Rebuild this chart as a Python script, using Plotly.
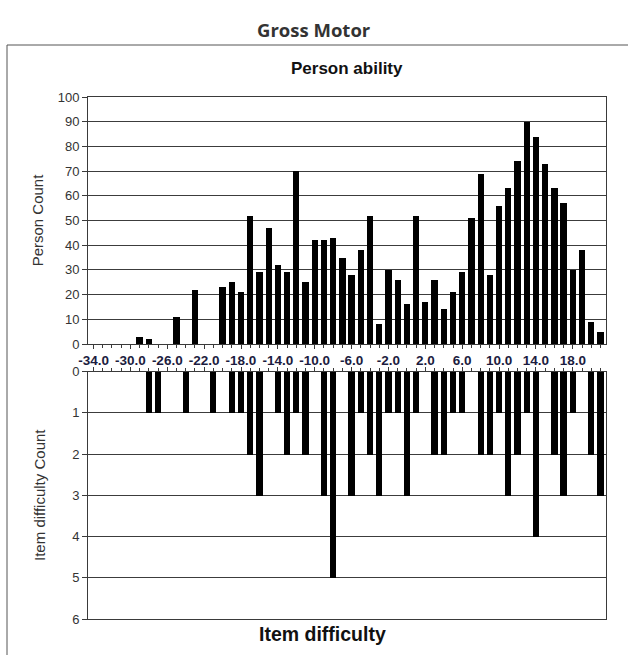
import plotly.graph_objects as go

# Person ability histogram (top)
person_ability = [-29, -28, -25, -23,
                  -20, -19, -18, -17, -16, -15, -14, -13, -12, -11,
                  -10, -9, -8, -7, -6, -5, -4, -3, -2, -1,
                  0, 1, 2, 3, 4, 5, 6, 7, 8, 9,
                  10, 11, 12, 13, 14, 15, 16, 17, 18, 19, 20, 21]
person_count = [3, 2, 11, 22,
                23, 25, 21, 52, 29, 47, 32, 29, 70, 25,
                42, 42, 43, 35, 28, 38, 52, 8, 30, 26,
                16, 52, 17, 26, 14, 21, 29, 51, 69, 28,
                56, 63, 74, 90, 84, 73, 63, 57, 30, 38, 9, 5]

# Item difficulty histogram (bottom, inverted)
item_difficulty = [-28, -27, -24, -21, -19, -18, -17, -16, -14, -13, -12, -11,
                   -9, -8, -6, -5, -4, -3, -2, -1, 0, 1, 3, 4, 5, 6,
                   8, 9, 10, 11, 12, 13, 14, 16, 17, 18, 20, 21]
item_count = [1, 1, 1, 1, 1, 1, 2, 3, 1, 2, 1, 2,
              3, 5, 3, 1, 2, 3, 1, 1, 3, 1, 2, 2, 1, 1,
              2, 2, 1, 3, 2, 1, 4, 2, 3, 1, 2, 3]

# Shared x-axis tick labels
x_tick_values = [-34, -30, -26, -22, -18, -14, -10, -6, -2, 2, 6, 10, 14, 18]
x_tick_labels = ["-34.0", "-30.0", "-26.0", "-22.0", "-18.0", "-14.0", "-10.0",
                 "-6.0", "-2.0", "2.0", "6.0", "10.0", "14.0", "18.0"]

W, H = 628, 655
px = lambda v: v / W
py = lambda v: 1 - v / H

fig = go.Figure()
fig.add_trace(go.Bar(x=person_ability, y=person_count, width=0.68,
                     marker=dict(color="black", line=dict(width=0)),
                     xaxis="x", yaxis="y", showlegend=False))
fig.add_trace(go.Bar(x=item_difficulty, y=item_count, width=0.68,
                     marker=dict(color="black", line=dict(width=0)),
                     xaxis="x2", yaxis="y2", showlegend=False))

xr = [-34.6, 21.6]
axfont = dict(family="Liberation Sans, Arial", size=13, color="#333")
xtickfont = dict(family="Liberation Sans, Arial", size=13.5, color="#1c1c40", weight="bold")
line_col = "#3a3a3a"
grid_col = "#3c3c3c"

fig.update_layout(
    width=W, height=H, margin=dict(l=0, r=0, t=0, b=0),
    paper_bgcolor="white", plot_bgcolor="white", bargap=0,
    xaxis=dict(domain=[px(88), px(606)], range=xr, anchor="y", automargin=False,
               tickmode="array", tickvals=x_tick_values, ticktext=x_tick_labels,
               ticks="outside", ticklen=4,
               tickcolor=line_col, tickfont=xtickfont, showgrid=False, zeroline=False,
               showline=True, linecolor=line_col, mirror=True,
               minor=dict(dtick=1, tick0=0, ticks="outside", ticklen=3, tickcolor=line_col)),
    yaxis=dict(domain=[py(344), py(97)], range=[0, 100], anchor="x", automargin=False,
               dtick=10, ticks="outside", ticklen=5, tickcolor=line_col,
               tickfont=axfont, showgrid=True, gridcolor=grid_col, gridwidth=1,
               zeroline=False, showline=True, linecolor=line_col, mirror=True,
               title=dict(text="Person Count", standoff=10,
                          font=dict(family="Liberation Sans, Arial", size=15, color="#333"))),
    xaxis2=dict(domain=[px(88), px(606)], range=xr, anchor="y2", side="top", automargin=False,
                tickmode="array", tickvals=x_tick_values,
                ticks="outside", ticklen=4, tickcolor=line_col,
                showticklabels=False, showgrid=False, zeroline=False,
                showline=True, linecolor=line_col, mirror=True,
                minor=dict(dtick=1, tick0=0, ticks="outside", ticklen=3, tickcolor=line_col)),
    yaxis2=dict(domain=[py(619), py(371.5)], range=[6, 0], anchor="x2", automargin=False,
                dtick=1, ticks="outside", ticklen=5, tickcolor=line_col,
                tickfont=axfont, showgrid=True, gridcolor=grid_col, gridwidth=1,
                zeroline=False, showline=True, linecolor=line_col, mirror=True,
                title=dict(text="Item difficulty Count", standoff=22,
                           font=dict(family="Liberation Sans, Arial", size=15, color="#333"))),
    shapes=[dict(type="rect", xref="paper", yref="paper",
                 x0=px(7), x1=1.02, y0=-0.02, y1=py(45),
                 line=dict(color="#555", width=1), fillcolor="rgba(0,0,0,0)")],
    annotations=[
        dict(text="Gross Motor", xref="paper", yref="paper", x=px(314), y=py(30),
             xanchor="center", yanchor="middle", showarrow=False,
             font=dict(family="Open Sans", size=18.5, color="#333", weight="bold")),
        dict(text="Person ability", xref="paper", yref="paper", x=px(347), y=py(68),
             xanchor="center", yanchor="middle", showarrow=False,
             font=dict(family="Liberation Sans, Arial", size=17, color="#111", weight="bold")),
        dict(text="Item difficulty", xref="paper", yref="paper", x=px(322), y=py(634),
             xanchor="center", yanchor="middle", showarrow=False,
             font=dict(family="Liberation Sans, Arial", size=19.5, color="#111", weight="bold")),
    ],
)

fig.write_html("out.html", config={"displayModeBar": False},
               post_script="document.body.style.margin='0';")
